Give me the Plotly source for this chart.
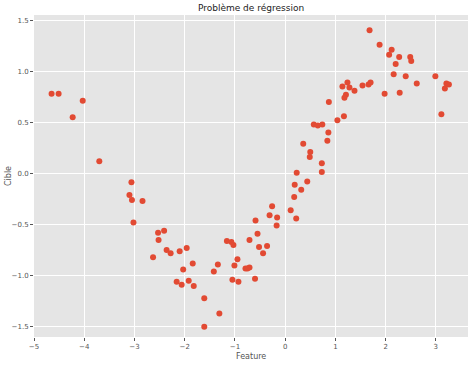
import plotly.graph_objects as go

feature = [-4.65, -4.51, -4.23, -4.03, -3.70,
           -3.06, -3.10, -3.05, -2.84, -3.02, -2.53, -2.41, -2.52, -2.63, -2.36, -2.28,
           -2.10, -1.96, -2.03, -2.16, -2.06, -1.92,
           0.23, 0.73, 0.19, 0.44, 0.32, 0.18, -0.26, 0.11, -0.31, -0.16, 0.22, -0.59,
           -0.17, -0.55, -0.71, -1.16, -1.07, -1.03, -0.36, -0.52, -0.44, -0.95, -1.34,
           -1.84, -1.01, -0.79, -0.71, -0.75, -1.42, -0.60, -1.05, -0.93, -1.82, -1.61,
           -1.31, -1.61,
           0.87, 0.57, 0.65, 0.74, 0.86, 0.84, 0.36, 0.50, 0.49, 0.73,
           1.68, 1.88, 2.12, 2.07, 2.27, 2.49, 2.51, 2.20, 2.16, 2.40, 2.99, 2.62, 3.21,
           3.26, 3.18, 1.98, 2.28, 3.11, 1.24, 1.14, 1.28, 1.38, 1.54, 1.66, 1.70, 1.21,
           1.18, 1.04, 1.17]
cible = [0.78, 0.78, 0.55, 0.71, 0.12,
         -0.085, -0.21, -0.26, -0.27, -0.48, -0.58, -0.56, -0.65, -0.82, -0.75, -0.78,
         -0.76, -0.73, -0.94, -1.06, -1.09, -1.05,
         0.007, 0.013, -0.11, -0.08, -0.16, -0.23, -0.32, -0.36, -0.41, -0.43, -0.44, -0.46,
         -0.51, -0.59, -0.65, -0.66, -0.67, -0.70, -0.71, -0.72, -0.78, -0.84, -0.89,
         -0.88, -0.90, -0.93, -0.92, -0.93, -0.96, -1.03, -1.04, -1.06, -1.10, -1.22,
         -1.37, -1.50,
         0.70, 0.48, 0.47, 0.48, 0.40, 0.32, 0.29, 0.21, 0.16, 0.10,
         1.40, 1.26, 1.21, 1.16, 1.14, 1.14, 1.10, 1.07, 0.97, 0.95, 0.95, 0.88, 0.88,
         0.87, 0.83, 0.78, 0.79, 0.58, 0.89, 0.85, 0.84, 0.81, 0.86, 0.87, 0.89, 0.77,
         0.74, 0.52, 0.56]

x_ticks = [-5, -4, -3, -2, -1, 0, 1, 2, 3]
y_ticks = [-1.5, -1.0, -0.5, 0.0, 0.5, 1.0, 1.5]
y_tick_text = ["\u22121.5", "\u22121.0", "\u22120.5", "0.0", "0.5", "1.0", "1.5"]
x_tick_text = ["\u22125", "\u22124", "\u22123", "\u22122", "\u22121", "0", "1", "2", "3"]

fig = go.Figure(go.Scatter(
    x=feature, y=cible, mode="markers",
    marker=dict(color="#E24A33", size=6, line=dict(width=0)),
))

axis_common = dict(
    showgrid=True, gridcolor="white", gridwidth=1, zeroline=False,
    ticks="outside", ticklen=3, tickcolor="#555555", tickwidth=0.8,
    tickfont=dict(family="DejaVu Sans", size=7, color="#555555"),
    showline=False, automargin=False,
)

fig.update_layout(
    width=474, height=366,
    margin=dict(l=34, r=6, t=15, b=29),
    paper_bgcolor="white", plot_bgcolor="#E5E5E5",
    title=dict(text="Problème de régression", x=251 / 474, xanchor="center",
               y=1 - 8 / 366, yanchor="middle",
               font=dict(family="DejaVu Sans", size=9, color="#222222")),
    xaxis=dict(axis_common, range=[-5, 3.64], tickvals=x_ticks, ticktext=x_tick_text),
    yaxis=dict(axis_common, range=[-1.6, 1.55], tickvals=y_ticks, ticktext=y_tick_text),
    showlegend=False,
    annotations=[
        dict(text="Feature", xref="paper", yref="paper", x=0.5, y=-20 / 322,
             xanchor="center", yanchor="middle", showarrow=False,
             font=dict(family="DejaVu Sans", size=8, color="#555555")),
        dict(text="Cible", xref="paper", yref="paper", x=-26 / 434, y=0.5,
             xanchor="center", yanchor="middle", showarrow=False, textangle=-90,
             font=dict(family="DejaVu Sans", size=8, color="#555555")),
    ],
)

fig.write_html("out.html", config={"displayModeBar": False},
               post_script="document.body.style.margin='0';")
